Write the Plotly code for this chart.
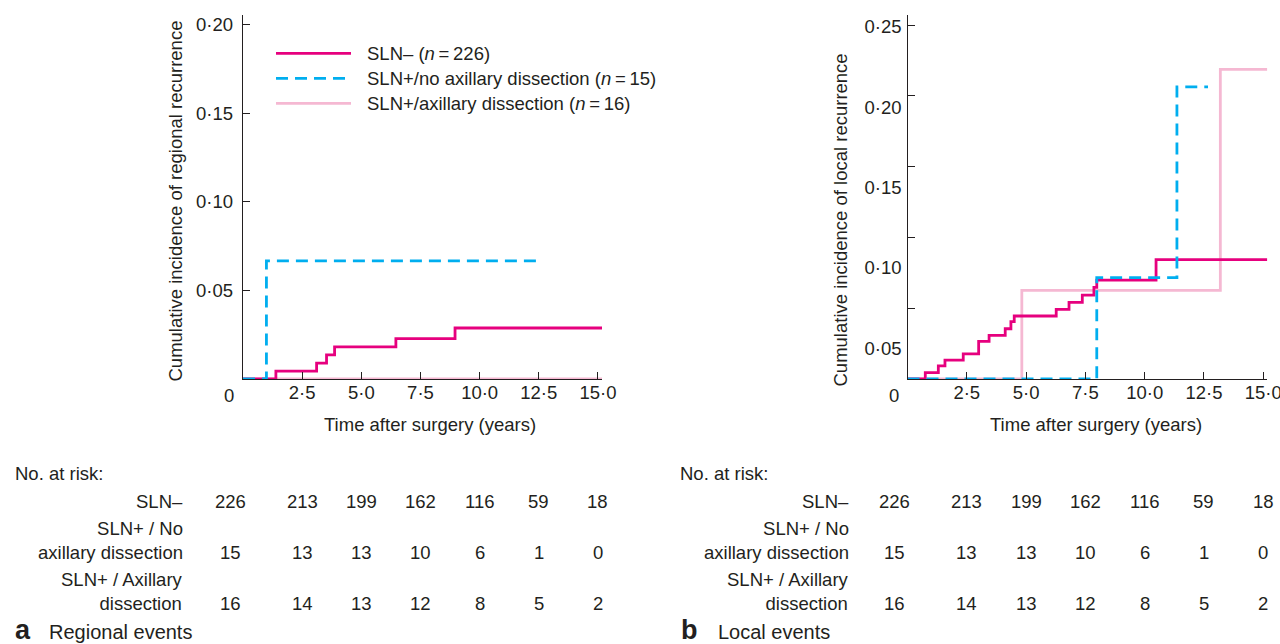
import plotly.graph_objects as go

# ---------------- data ----------------
series_names = ["SLN\u2013 (<i>n</i>\u2009=\u2009226)",
                "SLN+/no axillary dissection (<i>n</i>\u2009=\u200915)",
                "SLN+/axillary dissection (<i>n</i>\u2009=\u200916)"]

# Regional events (panel a)
reg_neg_t = [0, 1.39, 3.11, 3.53, 3.87, 6.46, 8.96, 15.17]
reg_neg_y = [0, 0.0044, 0.0090, 0.0136, 0.0181, 0.0228, 0.0288, 0.0288]
reg_noad_t = [0, 0.99, 12.66]
reg_noad_y = [0, 0.0667, 0.0667]
reg_ad_t = [0, 15.17]
reg_ad_y = [0, 0]

# Local events (panel b)
loc_neg_t = [0, 0.75, 1.30, 1.58, 2.35, 3.00, 3.44, 4.12, 4.36, 4.50, 6.27, 6.81,
             7.37, 7.86, 7.98, 10.48, 15.17]
loc_neg_y = [0, 0.0045, 0.0092, 0.0134, 0.0177, 0.0266, 0.0308, 0.0355, 0.0405,
             0.0445, 0.0492, 0.0541, 0.0593, 0.0647, 0.0699, 0.0843, 0.0843]
loc_noad_t = [0, 7.98, 11.36, 12.67]
loc_noad_y = [0, 0.0716, 0.2064, 0.2064]
loc_ad_t = [0, 4.82, 13.19, 15.17]
loc_ad_y = [0, 0.0626, 0.2187, 0.2187]

# ticks
x_tickvals = [2.5, 5, 7.5, 10, 12.5, 15]
x_ticktext = ["2\u00b75", "5\u00b70", "7\u00b75", "10\u00b70", "12\u00b75", "15\u00b70"]
reg_y_tickvals = [0.05, 0.10, 0.15, 0.20]
reg_y_ticktext = ["0\u00b705", "0\u00b710", "0\u00b715", "0\u00b720"]
loc_y_tickvals = [0.05, 0.10, 0.15, 0.20, 0.25]
loc_y_ticktext = ["0\u00b705", "0\u00b710", "0\u00b715", "0\u00b720", "0\u00b725"]

# numbers at risk
risk_times = [0, 2.5, 5, 7.5, 10, 12.5, 15]
risk_labels = ["SLN\u2013", "SLN+ / No<br>axillary dissection", "SLN+ / Axillary<br>dissection"]
risk_sln_neg = [226, 213, 199, 162, 116, 59, 18]
risk_no_ad = [15, 13, 13, 10, 6, 1, 0]
risk_ad = [16, 14, 13, 12, 8, 5, 2]

panel_letters = ["a", "b"]
panel_titles = ["Regional events", "Local events"]
y_titles = ["Cumulative incidence of regional recurrence",
            "Cumulative incidence of local recurrence"]
x_title = "Time after surgery (years)"

# ---------------- style ----------------
W, H = 1280, 644
FONT = "Liberation Sans, Arial, Helvetica, sans-serif"
TXT = "#231F20"
FS = 18.5
C_NEG = "#E6007E"
C_NOAD = "#00AEEF"
C_AD = "#F5B8D2"
DASH = "12px,7px"
LW = 2.8


def fx(px):
    return px / W


def fy(py):
    return 1 - py / H


fig = go.Figure()

panels = [
    dict(x="x", y="y", data=[(reg_ad_t, reg_ad_y, C_AD, "solid"),
                              (reg_neg_t, reg_neg_y, C_NEG, "solid"),
                              (reg_noad_t, reg_noad_y, C_NOAD, DASH)]),
    dict(x="x2", y="y2", data=[(loc_ad_t, loc_ad_y, C_AD, "solid"),
                                (loc_neg_t, loc_neg_y, C_NEG, "solid"),
                                (loc_noad_t, loc_noad_y, C_NOAD, DASH)]),
]
for p in panels:
    for t, v, c, d in p["data"]:
        fig.add_trace(go.Scatter(x=t, y=v, mode="lines", line_shape="hv",
                                 line=dict(color=c, width=LW, dash=d),
                                 xaxis=p["x"], yaxis=p["y"], showlegend=False,
                                 hoverinfo="skip"))

# empty trace so that the label-only overlay axis is drawn
fig.add_trace(go.Scatter(x=[], y=[], xaxis="x2", yaxis="y4", showlegend=False))

axis_common = dict(showline=True, linecolor=TXT, linewidth=1.4, ticks="inside",
                   ticklen=7, tickwidth=1.4, tickcolor=TXT, showgrid=False,
                   zeroline=False, tickfont=dict(family=FONT, size=FS, color=TXT),
                   fixedrange=True, automargin=False, ticklabeloverflow="allow")

ydom = [fy(379), fy(15)]
fig.update_layout(
    width=W, height=H, autosize=False, margin=dict(l=0, r=0, t=0, b=0),
    paper_bgcolor="white", plot_bgcolor="white",
    font=dict(family=FONT, size=FS, color=TXT),
    xaxis=dict(domain=[fx(243), fx(602)], range=[0, 15.17], anchor="y",
               tickvals=x_tickvals, ticktext=x_ticktext, ticklabelstandoff=-3,
               **axis_common),
    yaxis=dict(domain=ydom, range=[0, 0.2056], anchor="x",
               tickvals=reg_y_tickvals, ticktext=reg_y_ticktext, ticklabelstandoff=5,
               **axis_common),
    xaxis2=dict(domain=[fx(907.5), fx(1267.3)], range=[0, 15.17], anchor="y2",
                tickvals=x_tickvals, ticktext=x_ticktext, ticklabelstandoff=-3,
                **axis_common),
    yaxis2=dict(domain=ydom, range=[0, 0.2571], anchor="x2",
                tickvals=loc_y_tickvals, showticklabels=False, **axis_common),
    yaxis4=dict(overlaying="y2", anchor="x2", side="left", range=[0.0309, 0.2573],
                tickvals=loc_y_tickvals, ticktext=loc_y_ticktext, showline=False,
                ticks="", showgrid=False, zeroline=False, ticklabelstandoff=5,
                tickfont=dict(family=FONT, size=FS, color=TXT), fixedrange=True,
                automargin=False),
)

ann = []
# corner "0" labels
for xr in ["x", "x2"]:
    ann.append(dict(x=0, xref=xr, y=fy(395), yref="paper", text="0", showarrow=False,
                    xshift=-14, xanchor="center", yanchor="middle"))
# axis titles
for xc, yc, txt in [(175, 201.5, y_titles[0]), (840, 220.5, y_titles[1])]:
    ann.append(dict(x=fx(xc), y=fy(yc), xref="paper", yref="paper", text=txt,
                    textangle=-90, showarrow=False, xanchor="center", yanchor="middle"))
for xc in [430, 1096]:
    ann.append(dict(x=fx(xc), y=fy(424), xref="paper", yref="paper", text=x_title,
                    showarrow=False, xanchor="center", yanchor="middle"))

# legend (panel a)
shapes = []
leg_rows = [53.3, 78.3, 103.3]
leg_styles = [(C_NEG, "solid"), (C_NOAD, DASH), (C_AD, "solid")]
for name, yy, (c, d) in zip(series_names, leg_rows, leg_styles):
    shapes.append(dict(type="line", xref="paper", yref="paper", x0=fx(276), x1=fx(351),
                       y0=fy(yy), y1=fy(yy), line=dict(color=c, width=LW, dash=d)))
    ann.append(dict(x=fx(365), y=fy(yy), xref="paper", yref="paper", text=name,
                    showarrow=False, xanchor="left", yanchor="middle"))

# at-risk tables
risk_rows = [risk_sln_neg, risk_no_ad, risk_ad]
num_y = [501.7, 552.7, 603]
lab_y = [501.7, 540.4, 591]
for xr, lab_right, left in [("x", 185, 13), ("x2", 850.7, 678)]:
    ann.append(dict(x=fx(left), y=fy(473), xref="paper", yref="paper",
                    text="No. at risk:", showarrow=False, xanchor="left", yanchor="middle"))
    for lab, ly, ny, row in zip(risk_labels, lab_y, num_y, risk_rows):
        ann.append(dict(x=fx(lab_right), y=fy(ly), xref="paper", yref="paper", text=lab,
                        showarrow=False, xanchor="right", yanchor="middle", align="right"))
        for t, n in zip(risk_times, row):
            ann.append(dict(x=t, xref=xr, y=fy(ny), yref="paper", text=str(n),
                            showarrow=False, xanchor="center", yanchor="middle",
                            xshift=-13 if t == 0 else 0))

# panel captions
for letter, title, lx, tx in [(panel_letters[0], panel_titles[0], 13, 46.7),
                              (panel_letters[1], panel_titles[1], 679, 716)]:
    ann.append(dict(x=fx(lx), y=fy(630), xref="paper", yref="paper",
                    text="<b>" + letter + "</b>", font=dict(size=27, family=FONT, color=TXT),
                    showarrow=False, xanchor="left", yanchor="middle"))
    ann.append(dict(x=fx(tx), y=fy(632), xref="paper", yref="paper", text=title,
                    font=dict(size=20, family=FONT, color=TXT),
                    showarrow=False, xanchor="left", yanchor="middle"))

fig.update_layout(annotations=ann, shapes=shapes)
fig.write_html("out.html",
               config={"responsive": False, "displayModeBar": False},
               post_script="document.body.style.margin='0';"
                           "document.body.style.overflow='hidden';")
